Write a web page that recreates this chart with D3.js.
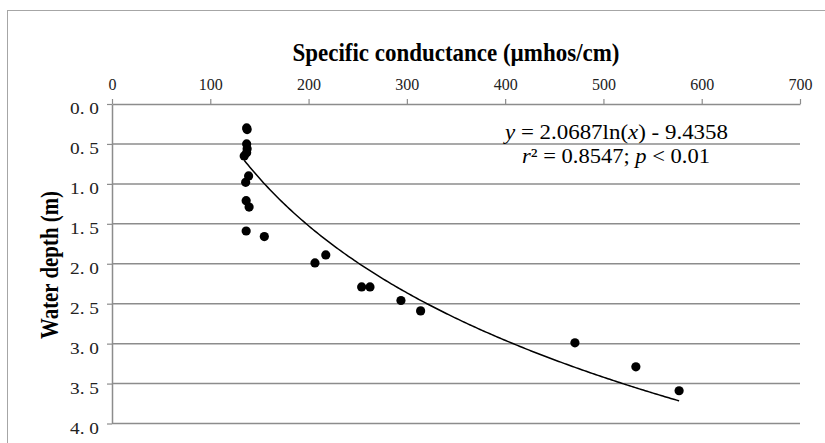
<!DOCTYPE html>
<html>
<head>
<meta charset="utf-8">
<script src="https://cdn.jsdelivr.net/npm/d3@7"></script>
<style>
  body { margin: 0; background: #fff; }
  svg { display: block; }
  text { font-family: "Liberation Serif", "DejaVu Serif", serif; }
</style>
</head>
<body>
<svg id="chart" width="825" height="443"></svg>
<script>

// specific conductance (umhos/cm) and water depth (m)
var conductance = [137, 137.5, 137, 137.5, 137, 134.5, 139, 136, 136.5, 139.5, 136.5, 155,
                   206.5, 217.5, 254, 262.5, 294, 314, 471, 533, 577];
var depth       = [0.30, 0.32, 0.50, 0.56, 0.61, 0.65, 0.90, 0.98, 1.21, 1.29, 1.59, 1.66,
                   1.99, 1.89, 2.29, 2.29, 2.46, 2.59, 2.99, 3.29, 3.59];

var xTicks = [0, 100, 200, 300, 400, 500, 600, 700];
var yTicks = [0, 0.5, 1, 1.5, 2, 2.5, 3, 3.5, 4];

// log trendline as printed on the chart
var fitA = 2.0687, fitB = -9.4358;

var svg = d3.select("#chart");
var margin = {left: 112, right: 25, top: 104, bottom: 19.5};
var W = +svg.attr("width"), H = +svg.attr("height");
var w = W - margin.left - margin.right,
    h = H - margin.top - margin.bottom;

var x = d3.scaleLinear().domain([0, 700]).range([0, w]);
var y = d3.scaleLinear().domain([0, 4]).range([0, h]);

var grey = "#8c8c8c";
var serif = "'Liberation Serif', 'DejaVu Serif', serif";

// outer chart border (runs off the right and bottom edges)
svg.append("rect")
    .attr("x", 7.5).attr("y", 10.5)
    .attr("width", 900).attr("height", 500)
    .attr("fill", "none").attr("stroke", "#a6a6a6").attr("stroke-width", 1);

var g = svg.append("g").attr("transform", "translate(" + margin.left + "," + margin.top + ")");

// horizontal gridlines
g.append("g").selectAll("line")
    .data(yTicks.slice(1))
    .join("line")
        .attr("x1", 0).attr("x2", w)
        .attr("y1", d => y(d)).attr("y2", d => y(d))
        .attr("stroke", grey).attr("stroke-width", 1.5);

// x axis on top
var xg = g.append("g")
    .call(d3.axisTop(x).tickValues(xTicks).tickSize(5).tickSizeOuter(0).tickPadding(9));
xg.attr("font-family", null);
xg.select(".domain").attr("stroke", grey).attr("stroke-width", 1.5);
xg.selectAll(".tick line").attr("stroke", grey).attr("stroke-width", 1.2);
xg.selectAll(".tick text")
    .style("font-family", serif).style("font-size", "16px").attr("fill", "#222");

// y axis on the left
var yg = g.append("g")
    .call(d3.axisLeft(y).tickValues(yTicks).tickSize(5).tickSizeOuter(0).tickPadding(8)
        .tickFormat(d => d3.format(".1f")(d).replace(".", ". ")));
yg.attr("font-family", null);
yg.select(".domain").attr("stroke", grey).attr("stroke-width", 1.5);
yg.selectAll(".tick line").attr("stroke", grey).attr("stroke-width", 1.2);
yg.selectAll(".tick text")
    .style("font-family", serif).style("font-size", "16px").attr("fill", "#222")
    .attr("dy", "0.62em")
    .attr("textLength", 29).attr("lengthAdjust", "spacingAndGlyphs");

// trendline
var xMin = d3.min(conductance), xMax = d3.max(conductance);
var fit = d3.range(xMin, xMax, 2).concat([xMax]).map(c => [c, fitA * Math.log(c) + fitB]);
g.append("path")
    .datum(fit)
    .attr("fill", "none").attr("stroke", "#000").attr("stroke-width", 1.5)
    .attr("d", d3.line().x(d => x(d[0])).y(d => y(d[1])));

// points
g.append("g").selectAll("circle")
    .data(d3.zip(conductance, depth))
    .join("circle")
        .attr("cx", d => x(d[0]))
        .attr("cy", d => y(d[1]))
        .attr("r", 4.6)
        .attr("fill", "#000");

// axis titles
svg.append("text")
    .attr("x", 292.5).attr("y", 61)
    .style("font-family", serif).style("font-weight", "bold").style("font-size", "26px")
    .attr("textLength", 327).attr("lengthAdjust", "spacingAndGlyphs")
    .text("Specific conductance (\u00b5mhos/cm)");

svg.append("text")
    .attr("transform", "translate(58,265) rotate(-90)")
    .attr("text-anchor", "middle")
    .style("font-family", serif).style("font-weight", "bold").style("font-size", "25px")
    .attr("textLength", 148).attr("lengthAdjust", "spacingAndGlyphs")
    .text("Water depth (m)");

// equation label
var eq1 = svg.append("text")
    .attr("x", 505).attr("y", 139)
    .style("font-family", serif).style("font-size", "21px")
    .attr("textLength", 223).attr("lengthAdjust", "spacingAndGlyphs");
eq1.append("tspan").style("font-style", "italic").text("y");
eq1.append("tspan").text(" = " + fitA + "ln(");
eq1.append("tspan").style("font-style", "italic").text("x");
eq1.append("tspan").text(") - " + Math.abs(fitB));

var eq2 = svg.append("text")
    .attr("x", 522).attr("y", 163)
    .style("font-family", serif).style("font-size", "21px")
    .attr("textLength", 188).attr("lengthAdjust", "spacingAndGlyphs");
eq2.append("tspan").style("font-style", "italic").text("r");
eq2.append("tspan").text("\u00b2 = 0.8547; ");
eq2.append("tspan").style("font-style", "italic").text("p");
eq2.append("tspan").text(" < 0.01");

</script>
</body>
</html>
